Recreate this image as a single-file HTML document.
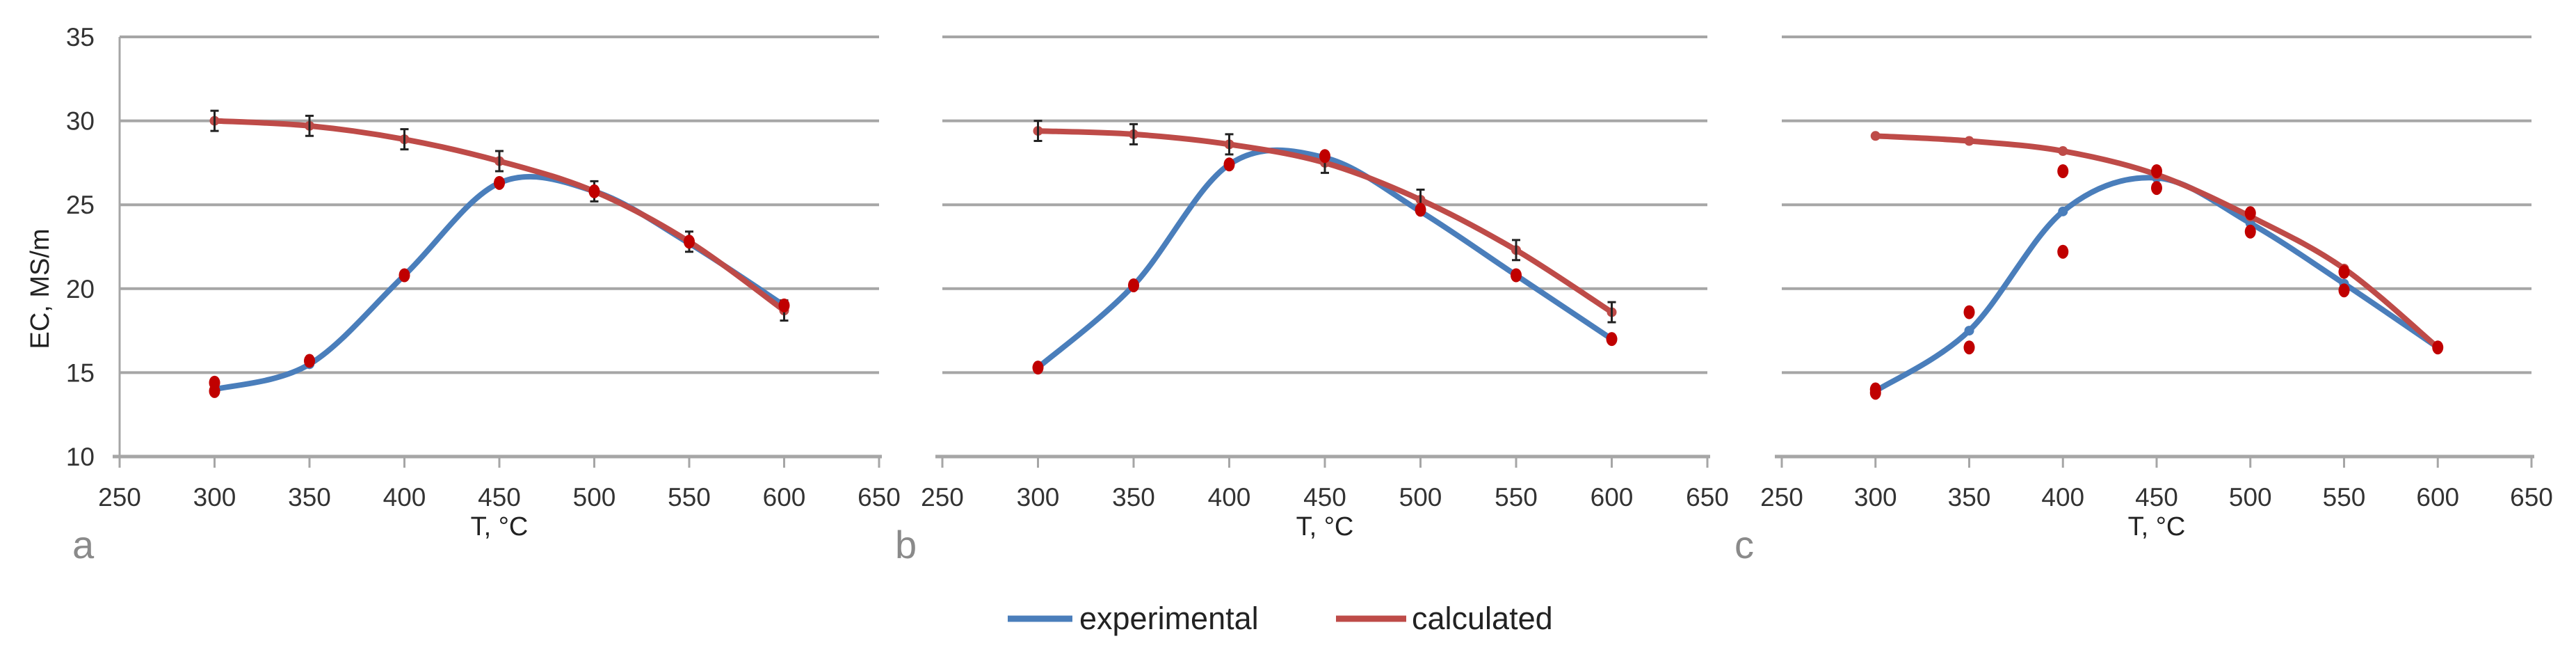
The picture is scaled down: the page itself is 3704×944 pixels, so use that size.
<!DOCTYPE html>
<html><head><meta charset="utf-8"><style>
html,body{margin:0;padding:0;background:#fff;}
svg text{font-family:"Liberation Sans",sans-serif;}
</style></head><body>
<svg id="chart" width="3704" height="939" xmlns="http://www.w3.org/2000/svg"></svg>
<script>
const temps = [300, 350, 400, 450, 500, 550, 600];
const xTicks = [250, 300, 350, 400, 450, 500, 550, 600, 650];
const yTicks = [10, 15, 20, 25, 30, 35];
const panelLetters = ['a', 'b', 'c'];
const calcA = [30.0, 29.7, 28.9, 27.6, 25.8, 22.8, 18.7];
const expA  = [14.0, 15.5, 20.8, 26.3, 25.8, 22.7, 19.0];
const dotsA = [[14.4, 13.9], [15.7], [20.8], [26.3], [25.8], [22.8], [19.0]];
const calcB = [29.4, 29.2, 28.6, 27.5, 25.3, 22.3, 18.6];
const expB  = [15.3, 20.2, 27.4, 27.8, 24.6, 20.8, 17.0];
const dotsB = [[15.3], [20.2], [27.4], [27.9], [24.7], [20.8], [17.0]];
const calcC = [29.1, 28.8, 28.2, 26.8, 24.3, 21.2, 16.5];
const expC  = [13.9, 17.5, 24.6, 26.6, 23.9, 20.3, 16.5];
const dotsC = [[14.0, 13.8], [18.6, 16.5], [27.0, 22.2], [27.0, 26.0], [24.5, 23.4], [21.0, 19.9], [16.5]];
const errAB = 0.6;

const NS = 'http://www.w3.org/2000/svg';
const svg = document.getElementById('chart');
function el(tag, attrs, parent, txt) {
  const e = document.createElementNS(NS, tag);
  for (const k in attrs) e.setAttribute(k, attrs[k]);
  if (txt !== undefined) e.textContent = txt;
  (parent || svg).appendChild(e);
  return e;
}
const Y0 = 656, Y1 = 53;
function ys(v) { return Y0 - (v - 10) / 25 * (Y0 - Y1); }
function smooth(pts) {
  let d = 'M' + pts[0][0] + ',' + pts[0][1];
  for (let i = 0; i < pts.length - 1; i++) {
    const p0 = pts[Math.max(0, i - 1)], p1 = pts[i], p2 = pts[i + 1], p3 = pts[Math.min(pts.length - 1, i + 2)];
    const t = 6;
    d += ' C' + (p1[0] + (p2[0] - p0[0]) / t) + ',' + (p1[1] + (p2[1] - p0[1]) / t) + ' ' +
      (p2[0] - (p3[0] - p1[0]) / t) + ',' + (p2[1] - (p3[1] - p1[1]) / t) + ' ' + p2[0] + ',' + p2[1];
  }
  return d;
}
const panels = [
  {x0: 172, x1: 1264, calc: calcA, exp: expA, dots: dotsA, err: true, ylab: true},
  {x0: 1355, x1: 2455, calc: calcB, exp: expB, dots: dotsB, err: true, ylab: false},
  {x0: 2562, x1: 3640, calc: calcC, exp: expC, dots: dotsC, err: false, ylab: false}
];
panels.forEach((p, pi) => {
  const g = el('g', {});
  
  
  const xs = v => p.x0 + (v - 250) / 400 * (p.x1 - p.x0);
  yTicks.forEach(v => {
    if (v === 10) return;
    const l = el('line', {x1: p.x0, x2: p.x1, y1: ys(v), y2: ys(v), stroke: '#a6a6a6', 'stroke-width': 4}, g);
    
    
    if (p.ylab) {
      const t = el('text', {x: p.x0 - 36, y: ys(v) + 13, 'text-anchor': 'end', 'font-size': 37, fill: '#333'}, g, String(v));
      
      
    }
  });
  if (p.ylab) {
    const t = el('text', {x: p.x0 - 36, y: ys(10) + 13, 'text-anchor': 'end', 'font-size': 37, fill: '#333'}, g, '10');
    
    
    const ax = el('line', {x1: p.x0, x2: p.x0, y1: ys(35), y2: ys(10), stroke: '#a6a6a6', 'stroke-width': 3}, g);
    
    
    const yt = el('text', {x: 0, y: 0, transform: 'translate(70,415) rotate(-90)', 'text-anchor': 'middle', 'font-size': 38, fill: '#222'}, g, 'EC, MS/m');
    
    
  }
  const xa = el('line', {x1: p.x0 - 10, x2: p.x1 + 4, y1: ys(10), y2: ys(10), stroke: '#a6a6a6', 'stroke-width': 5}, g);
  
  
  xTicks.forEach(v => {
    const tk = el('line', {x1: xs(v), x2: xs(v), y1: ys(10), y2: ys(10) + 16, stroke: '#a6a6a6', 'stroke-width': 3}, g);
    
    
    const t = el('text', {x: xs(v), y: 727, 'text-anchor': 'middle', 'font-size': 37, fill: '#333'}, g, String(v));
    
    
  });
  const xt = el('text', {x: (p.x0 + p.x1) / 2, y: 769, 'text-anchor': 'middle', 'font-size': 38, fill: '#222'}, g, 'T, °C');
  
  
  const lt = el('text', {x: p.x0 - 68, y: 802, 'font-size': 56, fill: '#8a8a8a'}, g, panelLetters[pi]);
  
  

  const ep = el('path', {d: smooth(temps.map((t, i) => [xs(t), ys(p.exp[i])])), fill: 'none', stroke: '#4a7ebb', 'stroke-width': 8}, g);
  
  
  temps.forEach((t, i) => {
    const c = el('circle', {cx: xs(t), cy: ys(p.exp[i]), r: 7, fill: '#4a7ebb'}, g);
    
    
  });
  const cp = el('path', {d: smooth(temps.map((t, i) => [xs(t), ys(p.calc[i])])), fill: 'none', stroke: '#be4b48', 'stroke-width': 8}, g);
  
  
  temps.forEach((t, i) => {
    const c = el('circle', {cx: xs(t), cy: ys(p.calc[i]), r: 7, fill: '#be4b48'}, g);
    
    
    if (p.err) {
      const x = xs(t), a = ys(p.calc[i] + errAB), b = ys(p.calc[i] - errAB);
      const e = el('path', {d: `M${x},${a}V${b}M${x - 6},${a}H${x + 6}M${x - 6},${b}H${x + 6}`, stroke: '#222', 'stroke-width': 3, fill: 'none'}, g);
      
      
    }
  });
  temps.forEach((t, i) => {
    p.dots[i].forEach(v => {
      const d = el('ellipse', {cx: xs(t), cy: ys(v), rx: 8, ry: 10, fill: '#c00000'}, g);
      
      
    });
  });
});
// legend
const lg = el('g', {});


const l1 = el('line', {x1: 1449, x2: 1542, y1: 889, y2: 889, stroke: '#4a7ebb', 'stroke-width': 9}, lg);


const t1 = el('text', {x: 1552, y: 904, 'font-size': 45, fill: '#222'}, lg, 'experimental');


const l2 = el('line', {x1: 1921, x2: 2022, y1: 889, y2: 889, stroke: '#be4b48', 'stroke-width': 9}, lg);


const t2 = el('text', {x: 2030, y: 904, 'font-size': 45, fill: '#222'}, lg, 'calculated');


</script>
</body></html>
